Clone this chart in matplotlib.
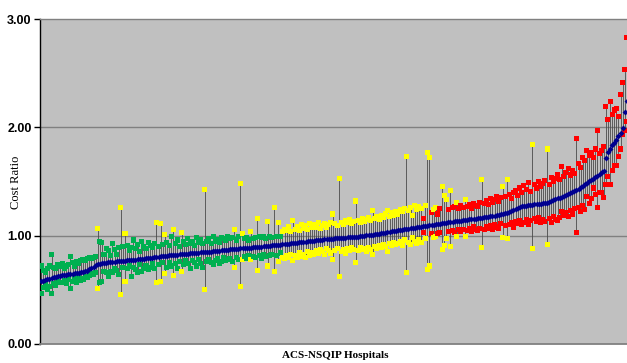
import numpy as np
import matplotlib
matplotlib.use("Agg")
import matplotlib.pyplot as plt

# Hospital cost ratio (ranked) with lower / upper confidence bounds
cost_ratio = [
    0.580, 0.585, 0.592, 0.598, 0.603, 0.608, 0.614, 0.620, 0.626, 0.631,
    0.635, 0.638, 0.641, 0.644, 0.646, 0.649, 0.652, 0.655, 0.658, 0.661,
    0.665, 0.670, 0.678, 0.688, 0.700, 0.713, 0.727, 0.738, 0.743, 0.747,
    0.750, 0.752, 0.754, 0.756, 0.758, 0.760, 0.762, 0.764, 0.766, 0.768,
    0.770, 0.772, 0.774, 0.776, 0.778, 0.780, 0.782, 0.784, 0.786, 0.788,
    0.790, 0.793, 0.795, 0.798, 0.800, 0.803, 0.805, 0.808, 0.810, 0.813,
    0.815, 0.817, 0.819, 0.821, 0.823, 0.825, 0.827, 0.829, 0.831, 0.833,
    0.835, 0.837, 0.839, 0.840, 0.842, 0.843, 0.845, 0.846, 0.848, 0.849,
    0.850, 0.852, 0.855, 0.857, 0.860, 0.862, 0.865, 0.867, 0.870, 0.872,
    0.875, 0.876, 0.878, 0.879, 0.881, 0.882, 0.884, 0.885, 0.887, 0.888,
    0.890, 0.892, 0.894, 0.896, 0.898, 0.900, 0.902, 0.904, 0.906, 0.908,
    0.910, 0.912, 0.914, 0.916, 0.918, 0.920, 0.922, 0.924, 0.926, 0.928,
    0.930, 0.932, 0.935, 0.937, 0.940, 0.942, 0.945, 0.947, 0.950, 0.952,
    0.955, 0.957, 0.959, 0.961, 0.963, 0.965, 0.967, 0.969, 0.971, 0.973,
    0.975, 0.976, 0.978, 0.979, 0.981, 0.982, 0.984, 0.985, 0.987, 0.988,
    0.990, 0.992, 0.995, 0.997, 1.000, 1.002, 1.005, 1.007, 1.010, 1.012,
    1.015, 1.018, 1.022, 1.025, 1.029, 1.032, 1.036, 1.039, 1.043, 1.046,
    1.050, 1.053, 1.056, 1.059, 1.062, 1.065, 1.068, 1.071, 1.074, 1.077,
    1.080, 1.083, 1.086, 1.089, 1.092, 1.095, 1.098, 1.101, 1.104, 1.107,
    1.110, 1.113, 1.116, 1.119, 1.122, 1.125, 1.128, 1.131, 1.134, 1.137,
    1.140, 1.142, 1.145, 1.147, 1.150, 1.152, 1.155, 1.157, 1.160, 1.162,
    1.165, 1.168, 1.171, 1.174, 1.177, 1.180, 1.184, 1.188, 1.192, 1.196,
    1.200, 1.206, 1.213, 1.221, 1.230, 1.240, 1.250, 1.260, 1.266, 1.271,
    1.275, 1.278, 1.281, 1.284, 1.287, 1.289, 1.291, 1.294, 1.296, 1.298,
    1.300, 1.306, 1.313, 1.320, 1.328, 1.336, 1.344, 1.352, 1.360, 1.368,
    1.375, 1.383, 1.392, 1.401, 1.410, 1.420, 1.432, 1.445, 1.460, 1.475,
    1.490, 1.502, 1.514, 1.526, 1.538, 1.550, 1.570, 1.590, 1.600, 1.720,
    1.770, 1.800, 1.840, 1.860, 1.880, 1.920, 1.950, 1.990, 2.140, 2.240,
]

upper_ci = [
    0.72, 0.68, 0.66, 0.70, 0.72, 0.83, 0.71, 0.70, 0.73, 0.72,
    0.74, 0.70, 0.72, 0.73, 0.81, 0.75, 0.72, 0.76, 0.74, 0.77,
    0.78, 0.77, 0.79, 0.80, 0.79, 0.80, 0.81, 1.07, 0.95, 0.94,
    0.83, 0.88, 0.86, 0.82, 0.93, 0.87, 0.83, 0.89, 1.26, 0.90,
    1.02, 0.91, 0.86, 0.89, 0.96, 0.88, 0.92, 0.85, 0.95, 0.90,
    0.88, 0.94, 0.91, 0.89, 0.93, 1.12, 0.90, 1.11, 0.92, 1.01,
    0.94, 0.91, 0.99, 1.06, 0.93, 0.96, 0.90, 1.03, 0.95, 0.92,
    0.97, 0.93, 0.95, 0.91, 0.98, 0.94, 0.96, 0.93, 1.43, 0.95,
    0.97, 0.93, 0.99, 0.95, 0.96, 0.94, 0.98, 0.97, 0.96, 0.99,
    0.97, 0.98, 1.06, 0.96, 0.99, 1.48, 1.02, 0.97, 0.98, 0.96,
    1.04, 0.97, 0.98, 1.16, 0.99, 0.98, 0.99, 0.97, 1.13, 0.99,
    0.98, 1.26, 0.99, 1.12, 0.99, 1.04, 1.06, 1.05, 1.08, 1.04,
    1.14, 1.06, 1.08, 1.05, 1.10, 1.07, 1.09, 1.06, 1.11, 1.08,
    1.10, 1.08, 1.12, 1.07, 1.09, 1.11, 1.08, 1.10, 1.12, 1.20,
    1.11, 1.09, 1.53, 1.12, 1.10, 1.14, 1.12, 1.15, 1.11, 1.13,
    1.32, 1.14, 1.12, 1.16, 1.13, 1.15, 1.17, 1.14, 1.23, 1.16,
    1.18, 1.15, 1.19, 1.17, 1.20, 1.23, 1.18, 1.21, 1.19, 1.22,
    1.20, 1.24, 1.22, 1.25, 1.73, 1.23, 1.26, 1.19, 1.28, 1.24,
    1.27, 1.25, 1.16, 1.28, 1.77, 1.72, 1.21, 1.24, 1.26, 1.20,
    1.25, 1.45, 1.37, 1.33, 1.24, 1.42, 1.26, 1.27, 1.31, 1.25,
    1.28, 1.26, 1.33, 1.27, 1.29, 1.25, 1.30, 1.28, 1.27, 1.31,
    1.52, 1.30, 1.32, 1.29, 1.34, 1.31, 1.33, 1.36, 1.32, 1.35,
    1.45, 1.36, 1.52, 1.38, 1.34, 1.40, 1.42, 1.37, 1.44, 1.40,
    1.46, 1.43, 1.49, 1.41, 1.84, 1.47, 1.44, 1.50, 1.45, 1.48,
    1.51, 1.80, 1.47, 1.54, 1.50, 1.53, 1.56, 1.52, 1.64, 1.55,
    1.58, 1.62, 1.56, 1.60, 1.57, 1.90, 1.67, 1.63, 1.72, 1.69,
    1.79, 1.74, 1.77, 1.72, 1.80, 1.97, 1.76, 1.79, 1.82, 2.19,
    2.07, 2.24, 2.12, 2.16, 2.17, 2.10, 2.30, 2.41, 2.53, 2.83,
]

lower_ci = [
    0.47, 0.52, 0.55, 0.50, 0.53, 0.47, 0.56, 0.54, 0.58, 0.57,
    0.57, 0.59, 0.56, 0.60, 0.51, 0.58, 0.60, 0.57, 0.61, 0.59,
    0.60, 0.62, 0.61, 0.63, 0.65, 0.64, 0.66, 0.51, 0.57, 0.58,
    0.67, 0.66, 0.62, 0.67, 0.66, 0.70, 0.68, 0.64, 0.46, 0.71,
    0.58, 0.70, 0.72, 0.62, 0.71, 0.69, 0.66, 0.73, 0.67, 0.70,
    0.72, 0.69, 0.71, 0.74, 0.70, 0.57, 0.73, 0.58, 0.75, 0.65,
    0.71, 0.75, 0.72, 0.63, 0.74, 0.70, 0.76, 0.67, 0.73, 0.77,
    0.74, 0.70, 0.77, 0.75, 0.72, 0.78, 0.74, 0.71, 0.50, 0.76,
    0.78, 0.75, 0.73, 0.77, 0.79, 0.74, 0.76, 0.80, 0.77, 0.78,
    0.79, 0.76, 0.71, 0.80, 0.78, 0.53, 0.78, 0.81, 0.79, 0.82,
    0.78, 0.81, 0.80, 0.68, 0.82, 0.79, 0.83, 0.81, 0.72, 0.82,
    0.83, 0.67, 0.82, 0.76, 0.84, 0.80, 0.79, 0.82, 0.80, 0.83,
    0.77, 0.82, 0.80, 0.84, 0.81, 0.83, 0.80, 0.85, 0.82, 0.84,
    0.83, 0.86, 0.84, 0.87, 0.85, 0.83, 0.88, 0.86, 0.84, 0.78,
    0.86, 0.88, 0.62, 0.85, 0.87, 0.84, 0.88, 0.86, 0.89, 0.87,
    0.75, 0.86, 0.89, 0.87, 0.88, 0.85, 0.89, 0.87, 0.83, 0.90,
    0.88, 0.91, 0.89, 0.92, 0.90, 0.85, 0.93, 0.91, 0.94, 0.92,
    0.93, 0.95, 0.91, 0.96, 0.66, 0.94, 0.92, 0.98, 0.95, 0.93,
    0.96, 0.94, 1.025, 0.97, 0.69, 0.72, 1.02, 0.98, 0.99, 1.02,
    1.03, 0.87, 0.91, 0.97, 1.04, 0.90, 1.05, 1.03, 0.99, 1.06,
    1.04, 1.06, 0.99, 1.05, 1.07, 1.04, 1.08, 1.06, 1.05, 1.07,
    0.89, 1.06, 1.08, 1.07, 1.09, 1.06, 1.10, 1.08, 1.07, 1.11,
    0.98, 1.09, 0.97, 1.10, 1.12, 1.08, 1.13, 1.11, 1.14, 1.10,
    1.12, 1.15, 1.10, 1.14, 0.88, 1.16, 1.13, 1.17, 1.12, 1.15,
    1.13, 0.92, 1.16, 1.12, 1.18, 1.15, 1.14, 1.17, 1.22, 1.19,
    1.21, 1.18, 1.23, 1.20, 1.25, 1.03, 1.26, 1.22, 1.28, 1.24,
    1.36, 1.30, 1.34, 1.44, 1.38, 1.26, 1.40, 1.40, 1.35, 1.47,
    1.55, 1.47, 1.60, 1.65, 1.65, 1.73, 1.80, 1.93, 1.97, 2.05,
]

y_ticks = [0, 1, 2, 3]
y_tick_labels = ["0.00", "1.00", "2.00", "3.00"]

mid = np.array(cost_ratio)
hi = np.array(upper_ci)
lo = np.array(lower_ci)
x = np.arange(len(mid))

GREEN, YELLOW, RED = "#00B050", "#FFFF00", "#FF0000"
colors = np.where(hi < 1.0, GREEN, np.where(lo > 1.0, RED, YELLOW))

W, H = 627, 363
fig = plt.figure(figsize=(W / 100, H / 100), dpi=100)
fig.patch.set_facecolor("white")
ax = fig.add_axes([40 / W, 19 / H, 590 / W, 325 / H])
ax.set_facecolor("#C0C0C0")

ax.set_xlim(-0.48, 280.5)
ax.set_ylim(0, 3)

for yv in (1, 2):
    ax.axhline(yv, color="#808080", lw=1.0, zorder=1)

ax.vlines(x, lo, hi, color="#4a4a4a", lw=0.6, zorder=2)
ax.scatter(x, hi, marker="s", s=13, c=colors, linewidths=0, zorder=3)
ax.scatter(x, lo, marker="s", s=13, c=colors, linewidths=0, zorder=3)
ax.plot(x, mid, linestyle="none", marker="D", markersize=3.0,
        color="#000090", markeredgewidth=0, zorder=4)

ax.set_xticks([])
ax.set_yticks(y_ticks)
ax.set_yticklabels(y_tick_labels, fontsize=9, fontweight="bold",
                   family=["Liberation Sans", "DejaVu Sans"])
ax.tick_params(axis="y", direction="out", length=4, width=1, color="black", pad=2)

ax.spines["left"].set_color("black")
ax.spines["left"].set_linewidth(1.0)
ax.spines["bottom"].set_color("#808080")
ax.spines["bottom"].set_linewidth(1.3)
ax.spines["top"].set_color("#808080")
ax.spines["top"].set_linewidth(1.0)
ax.spines["right"].set_visible(False)

fig.text(16 / W, 1 - 182 / H, "Cost Ratio", rotation=90, ha="center", va="center",
         fontsize=9, family=["Liberation Serif", "DejaVu Serif"])
fig.text(335 / W, 1 - 356 / H, "ACS-NSQIP Hospitals", ha="center", va="center",
         fontsize=8, fontweight="bold", family=["Liberation Serif", "DejaVu Serif"])

fig.savefig("out.png", dpi=100)
